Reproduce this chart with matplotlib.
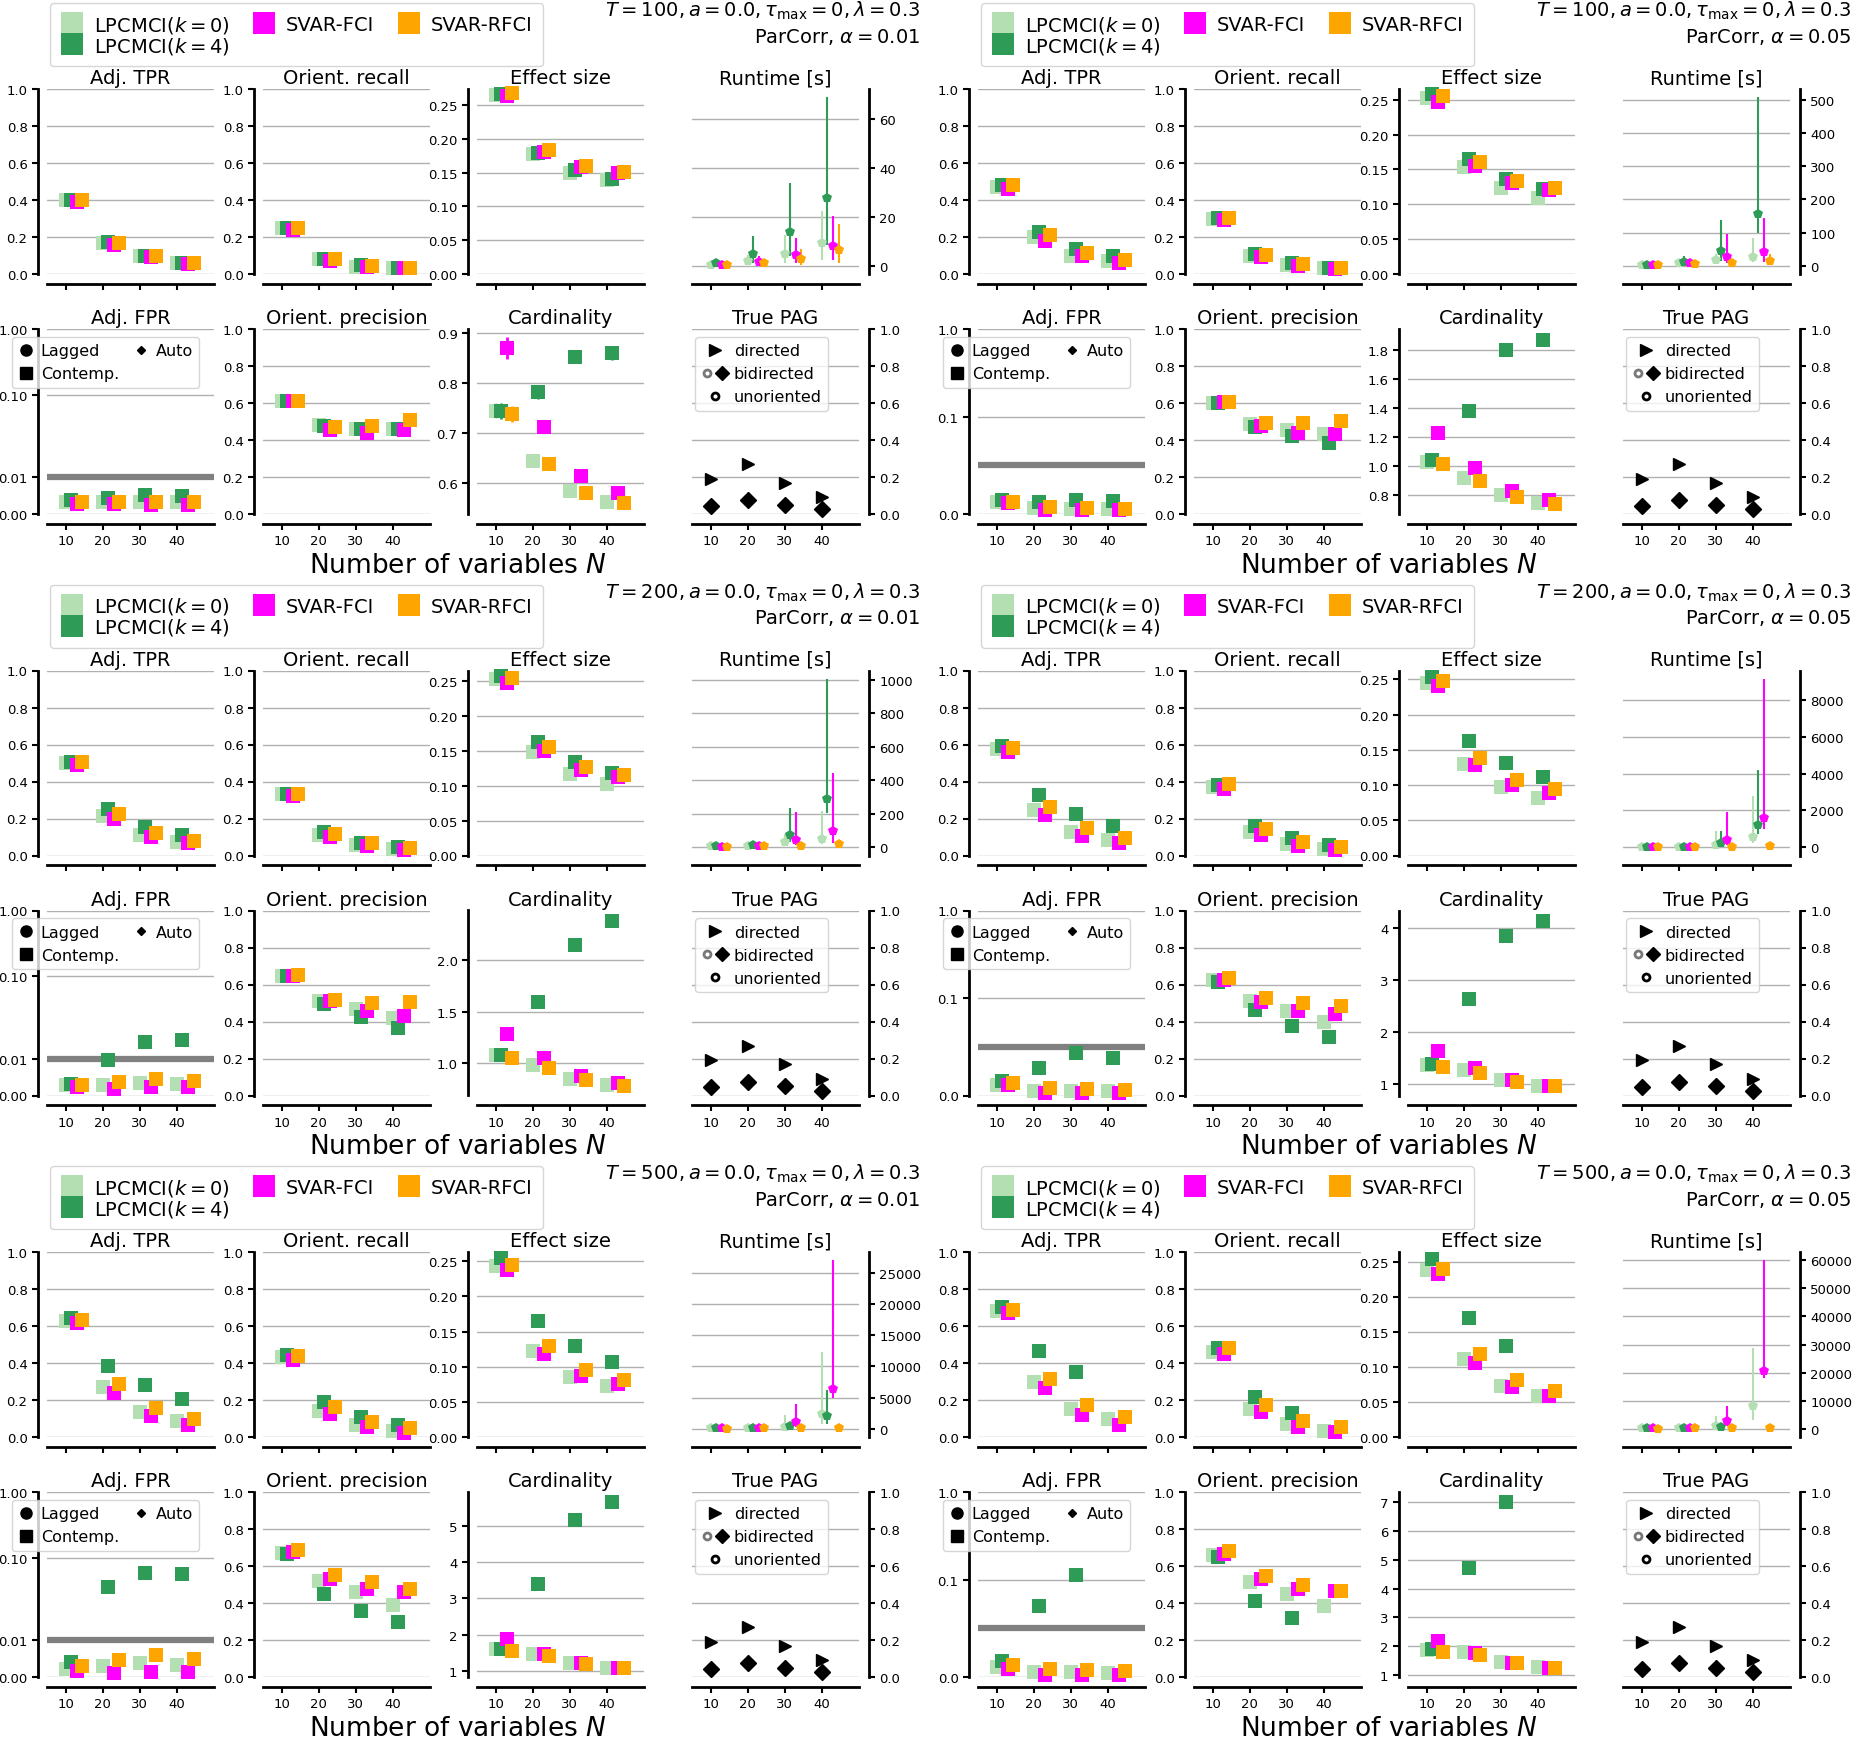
import numpy as np
import matplotlib
matplotlib.use("Agg")
import matplotlib.pyplot as plt
from matplotlib.lines import Line2D
from matplotlib.legend_handler import HandlerTuple
from matplotlib.ticker import NullLocator, FixedLocator, FixedFormatter

plt.rcParams['font.family'] = ['DejaVu Sans']
nan = np.nan

# ---------------- data ----------------
n_values = [10, 20, 30, 40]
methods = ["LPCMCI($k=0$)", "LPCMCI($k=4$)", "SVAR-FCI", "SVAR-RFCI"]
colors = ["#b3dfb3", "#2e9b57", "#ff00ff", "#ffa500"]
offsets = [0.0, 1.5, 3.0, 4.5]

true_directed = [0.19, 0.27, 0.17, 0.09]
true_bidirected = [0.045, 0.075, 0.05, 0.025]

# rows: LPCMCI(k=0), LPCMCI(k=4), SVAR-FCI, SVAR-RFCI ; columns: N = 10, 20, 30, 40

# T=100, alpha=0.01
tpr_100_01 = [[0.40, 0.17, 0.095, 0.06], [0.40, 0.175, 0.10, 0.06], [0.39, 0.155, 0.09, 0.055], [0.40, 0.17, 0.095, 0.06]]
rec_100_01 = [[0.25, 0.08, 0.04, 0.03], [0.25, 0.08, 0.05, 0.03], [0.24, 0.07, 0.04, 0.03], [0.25, 0.08, 0.045, 0.03]]
eff_100_01 = [[0.265, 0.177, 0.150, 0.139], [0.266, 0.179, 0.153, 0.141], [0.263, 0.181, 0.158, 0.150], [0.267, 0.183, 0.160, 0.151]]
fpr_100_01 = [[0.0032, 0.0032, 0.0032, 0.0032], [0.0038, 0.0043, 0.0053, 0.0049], [0.0028, 0.0026, 0.0024, 0.0025], [0.0033, 0.0034, 0.0034, 0.0034]]
prec_100_01 = [[0.61, 0.48, 0.46, 0.46], [0.61, 0.475, 0.46, 0.46], [0.61, 0.455, 0.44, 0.455], [0.61, 0.47, 0.475, 0.51]]
card_100_01 = [[0.745, 0.645, 0.585, 0.563], [0.745, 0.782, 0.853, 0.860], [0.870, 0.712, 0.615, 0.580], [0.739, 0.639, 0.580, 0.560]]
card_err_100_01 = [[0.015, 0.006, 0.005, 0.005], [0.016, 0.013, 0.013, 0.013], [0.022, 0.006, 0.006, 0.005], [0.016, 0.006, 0.005, 0.005]]
rt_100_01 = [[0.5, 1.8, 4.8, 9.4], [1.0, 5.0, 13.7, 27.6], [0.5, 1.6, 4.3, 8.3], [0.4, 1.2, 2.9, 6.5]]
rt_lo_100_01 = [[0.1, 0.5, 1.1, 2.2], [0.3, 1.2, 4.1, 8.4], [0.1, 0.4, 1.1, 2.2], [0.1, 0.3, 0.3, 1.2]]
rt_hi_100_01 = [[1.2, 4.5, 12.5, 22.5], [2.5, 12.4, 33.9, 68.9], [1.2, 3.9, 11.5, 20.4], [0.8, 2.4, 7.0, 17.0]]

# T=100, alpha=0.05
tpr_100_05 = [[0.47, 0.20, 0.10, 0.07], [0.48, 0.225, 0.135, 0.095], [0.46, 0.18, 0.095, 0.06], [0.48, 0.21, 0.115, 0.075]]
rec_100_05 = [[0.30, 0.10, 0.05, 0.03], [0.305, 0.11, 0.06, 0.035], [0.29, 0.09, 0.045, 0.025], [0.305, 0.105, 0.055, 0.035]]
eff_100_05 = [[0.253, 0.154, 0.124, 0.109], [0.258, 0.165, 0.137, 0.122], [0.247, 0.155, 0.130, 0.121], [0.255, 0.161, 0.133, 0.123]]
fpr_100_05 = [[0.012, 0.006, 0.005, 0.005], [0.014, 0.0125, 0.0145, 0.013], [0.011, 0.004, 0.004, 0.004], [0.012, 0.0076, 0.006, 0.0055]]
prec_100_05 = [[0.60, 0.487, 0.456, 0.43], [0.60, 0.471, 0.424, 0.384], [0.605, 0.475, 0.44, 0.43], [0.605, 0.49, 0.49, 0.502]]
card_100_05 = [[1.03, 0.918, 0.80, 0.75], [1.044, 1.383, 1.80, 1.874], [1.23, 0.99, 0.832, 0.768], [1.017, 0.90, 0.79, 0.74]]
card_err_100_05 = [[0.01, 0.01, 0.01, 0.01], [0.01, 0.015, 0.015, 0.015], [0.015, 0.01, 0.01, 0.01], [0.01, 0.01, 0.01, 0.01]]
rt_100_05 = [[3, 8, 16, 27], [3, 12, 44, 155], [3, 8, 25, 41], [2, 5, 8, 14]]
rt_lo_100_05 = [[1, 3, 5, 10], [1, 4, 15, 100], [1, 3, 8, 12], [0.5, 2, 3, 5]]
rt_hi_100_05 = [[6, 18, 35, 85], [8, 28, 138, 508], [6, 16, 95, 144], [4, 10, 18, 35]]

# T=200, alpha=0.01
tpr_200_01 = [[0.50, 0.215, 0.112, 0.075], [0.505, 0.25, 0.156, 0.11], [0.49, 0.195, 0.10, 0.065], [0.505, 0.225, 0.12, 0.08]]
rec_200_01 = [[0.33, 0.11, 0.055, 0.035], [0.33, 0.125, 0.07, 0.045], [0.32, 0.10, 0.05, 0.03], [0.33, 0.115, 0.065, 0.04]]
eff_200_01 = [[0.253, 0.149, 0.117, 0.103], [0.258, 0.163, 0.134, 0.119], [0.248, 0.150, 0.123, 0.113], [0.255, 0.156, 0.127, 0.116]]
fpr_200_01 = [[0.003, 0.003, 0.0035, 0.0032], [0.0032, 0.0096, 0.0147, 0.0153], [0.0023, 0.0017, 0.0023, 0.0023], [0.003, 0.0037, 0.0044, 0.0039]]
prec_200_01 = [[0.645, 0.511, 0.465, 0.42], [0.645, 0.495, 0.425, 0.367], [0.645, 0.51, 0.455, 0.43], [0.65, 0.515, 0.50, 0.507]]
card_200_01 = [[1.076, 0.986, 0.853, 0.79], [1.08, 1.597, 2.15, 2.378], [1.288, 1.054, 0.878, 0.81], [1.05, 0.953, 0.835, 0.78]]
card_err_200_01 = [[0.01, 0.01, 0.01, 0.01], [0.01, 0.02, 0.02, 0.02], [0.015, 0.01, 0.01, 0.01], [0.01, 0.01, 0.01, 0.01]]
rt_200_01 = [[5, 8, 29, 51], [5, 12, 73, 287], [4, 8, 46, 95], [3, 5, 10, 20]]
rt_lo_200_01 = [[2, 3, 10, 20], [2, 4, 30, 205], [1, 3, 15, 25], [1, 2, 4, 8]]
rt_hi_200_01 = [[10, 18, 80, 216], [12, 30, 234, 1004], [8, 16, 210, 444], [6, 10, 25, 45]]

# T=200, alpha=0.05
tpr_200_05 = [[0.576, 0.246, 0.128, 0.085], [0.59, 0.328, 0.226, 0.162], [0.56, 0.22, 0.106, 0.07], [0.58, 0.264, 0.146, 0.095]]
rec_200_05 = [[0.37, 0.125, 0.06, 0.035], [0.38, 0.16, 0.095, 0.055], [0.36, 0.11, 0.05, 0.03], [0.385, 0.145, 0.075, 0.045]]
eff_200_05 = [[0.245, 0.13, 0.097, 0.082], [0.254, 0.163, 0.131, 0.111], [0.24, 0.129, 0.10, 0.089], [0.248, 0.139, 0.107, 0.094]]
fpr_200_05 = [[0.011, 0.0049, 0.005, 0.005], [0.0144, 0.028, 0.0436, 0.0386], [0.011, 0.003, 0.003, 0.003], [0.0125, 0.0076, 0.0065, 0.006]]
prec_200_05 = [[0.624, 0.51, 0.456, 0.40], [0.615, 0.46, 0.374, 0.314], [0.625, 0.505, 0.455, 0.442], [0.634, 0.526, 0.50, 0.486]]
card_200_05 = [[1.38, 1.27, 1.08, 0.98], [1.40, 2.65, 3.86, 4.14], [1.65, 1.31, 1.08, 0.98], [1.34, 1.23, 1.05, 0.97]]
card_err_200_05 = [[0.02, 0.02, 0.02, 0.02], [0.02, 0.04, 0.04, 0.04], [0.03, 0.02, 0.02, 0.02], [0.02, 0.02, 0.02, 0.02]]
rt_200_05 = [[10, 20, 141, 544], [15, 30, 200, 1210], [10, 20, 383, 1592], [8, 12, 30, 60]]
rt_lo_200_05 = [[5, 10, 50, 200], [5, 10, 80, 690], [3, 8, 100, 1000], [3, 5, 10, 20]]
rt_hi_200_05 = [[25, 50, 887, 2800], [40, 80, 900, 4173], [25, 50, 1915, 9153], [15, 25, 60, 120]]

# T=500, alpha=0.01
tpr_500_01 = [[0.627, 0.269, 0.137, 0.086], [0.645, 0.382, 0.281, 0.205], [0.614, 0.239, 0.112, 0.064], [0.635, 0.285, 0.155, 0.10]]
rec_500_01 = [[0.43, 0.14, 0.064, 0.032], [0.444, 0.187, 0.11, 0.066], [0.418, 0.122, 0.052, 0.024], [0.44, 0.16, 0.08, 0.048]]
eff_500_01 = [[0.243, 0.122, 0.086, 0.0725], [0.254, 0.165, 0.130, 0.107], [0.238, 0.118, 0.087, 0.076], [0.245, 0.13, 0.095, 0.081]]
fpr_500_01 = [[0.0022, 0.003, 0.0039, 0.0034], [0.0041, 0.0356, 0.0597, 0.056], [0.0016, 0.001, 0.0015, 0.0014], [0.003, 0.0046, 0.0061, 0.0049]]
prec_500_01 = [[0.67, 0.52, 0.46, 0.39], [0.665, 0.45, 0.355, 0.297], [0.675, 0.528, 0.474, 0.462], [0.689, 0.55, 0.512, 0.478]]
card_500_01 = [[1.60, 1.48, 1.23, 1.10], [1.60, 3.41, 5.15, 5.65], [1.88, 1.48, 1.23, 1.10], [1.55, 1.43, 1.20, 1.10]]
card_err_500_01 = [[0.03, 0.03, 0.03, 0.03], [0.03, 0.05, 0.05, 0.05], [0.04, 0.03, 0.03, 0.03], [0.03, 0.03, 0.03, 0.03]]
rt_500_01 = [[40, 80, 300, 2370], [50, 100, 415, 2070], [30, 80, 1125, 6400], [20, 40, 50, 100]]
rt_lo_500_01 = [[20, 40, 100, 700], [20, 40, 150, 700], [10, 30, 300, 5000], [10, 20, 20, 40]]
rt_hi_500_01 = [[80, 200, 2190, 12320], [100, 250, 900, 6220], [60, 200, 3970, 27010], [40, 80, 100, 200]]

# T=500, alpha=0.05 (LPCMCI(k=4) missing at N=40)
tpr_500_05 = [[0.682, 0.298, 0.151, 0.095], [0.702, 0.465, 0.354, nan], [0.668, 0.264, 0.121, 0.065], [0.686, 0.314, 0.173, 0.11]]
rec_500_05 = [[0.46, 0.153, 0.068, 0.034], [0.483, 0.217, 0.129, nan], [0.449, 0.137, 0.056, 0.028], [0.48, 0.175, 0.089, 0.052]]
eff_500_05 = [[0.238, 0.111, 0.073, 0.058], [0.254, 0.170, 0.130, nan], [0.232, 0.106, 0.071, 0.058], [0.24, 0.118, 0.081, 0.066]]
fpr_500_05 = [[0.0107, 0.005, 0.005, 0.004], [0.016, 0.0725, 0.1135, nan], [0.0084, 0.0023, 0.002, 0.002], [0.0122, 0.008, 0.0075, 0.0065]]
prec_500_05 = [[0.659, 0.514, 0.45, 0.386], [0.651, 0.41, 0.319, nan], [0.665, 0.53, 0.478, 0.466], [0.679, 0.546, 0.50, 0.466]]
card_500_05 = [[1.88, 1.78, 1.46, 1.28], [1.90, 4.70, 7.0, nan], [2.17, 1.75, 1.43, 1.25], [1.81, 1.70, 1.42, 1.25]]
card_err_500_05 = [[0.03, 0.03, 0.03, 0.03], [0.03, 0.06, 0.06, nan], [0.04, 0.03, 0.03, 0.03], [0.03, 0.03, 0.03, 0.03]]
rt_500_05 = [[100, 200, 920, 8160], [150, 300, 660, nan], [100, 200, 2900, 20660], [50, 80, 100, 200]]
rt_lo_500_05 = [[50, 100, 300, 3000], [50, 100, 200, nan], [50, 100, 1000, 18000], [20, 40, 50, 100]]
rt_hi_500_05 = [[200, 500, 4470, 28800], [300, 600, 1500, nan], [200, 500, 8160, 60000], [100, 150, 200, 400]]

blocks = [
    dict(T=100, alpha=0.01, tpr=tpr_100_01, rec=rec_100_01, eff=eff_100_01, fpr=fpr_100_01, prec=prec_100_01,
         card=card_100_01, card_err=card_err_100_01, rt=rt_100_01, rt_lo=rt_lo_100_01, rt_hi=rt_hi_100_01),
    dict(T=100, alpha=0.05, tpr=tpr_100_05, rec=rec_100_05, eff=eff_100_05, fpr=fpr_100_05, prec=prec_100_05,
         card=card_100_05, card_err=card_err_100_05, rt=rt_100_05, rt_lo=rt_lo_100_05, rt_hi=rt_hi_100_05),
    dict(T=200, alpha=0.01, tpr=tpr_200_01, rec=rec_200_01, eff=eff_200_01, fpr=fpr_200_01, prec=prec_200_01,
         card=card_200_01, card_err=card_err_200_01, rt=rt_200_01, rt_lo=rt_lo_200_01, rt_hi=rt_hi_200_01),
    dict(T=200, alpha=0.05, tpr=tpr_200_05, rec=rec_200_05, eff=eff_200_05, fpr=fpr_200_05, prec=prec_200_05,
         card=card_200_05, card_err=card_err_200_05, rt=rt_200_05, rt_lo=rt_lo_200_05, rt_hi=rt_hi_200_05),
    dict(T=500, alpha=0.01, tpr=tpr_500_01, rec=rec_500_01, eff=eff_500_01, fpr=fpr_500_01, prec=prec_500_01,
         card=card_500_01, card_err=card_err_500_01, rt=rt_500_01, rt_lo=rt_lo_500_01, rt_hi=rt_hi_500_01),
    dict(T=500, alpha=0.05, tpr=tpr_500_05, rec=rec_500_05, eff=eff_500_05, fpr=fpr_500_05, prec=prec_500_05,
         card=card_500_05, card_err=card_err_500_05, rt=rt_500_05, rt_lo=rt_lo_500_05, rt_hi=rt_hi_500_05),
]

# ---------------- layout (pixels) ----------------
W, H = 1853, 1740
col_left = [47, 263, 477, 692]
col_w = 167
row_top = [90, 330]
row_h = 185
block_dx, block_dy = 931, 581.5

fig = plt.figure(figsize=(W / 100, H / 100), dpi=100)

TICK_FS = 9.5
TITLE_FS = 14
SMALL_LEG_FS = 11.5


def make_ax(bx, by, r, c):
    x0 = col_left[c] + bx
    y0 = row_top[r] + by
    return fig.add_axes([x0 / W, 1 - (y0 + row_h) / H, col_w / W, row_h / H])


def style(ax, right=False, bottom_labels=True):
    ax.spines['top'].set_visible(False)
    for s in ax.spines.values():
        s.set_linewidth(2)
    ax.spines['bottom'].set_position(('outward', 7))
    if right:
        ax.spines['left'].set_visible(False)
        ax.spines['right'].set_position(('outward', 7))
        ax.yaxis.tick_right()
    else:
        ax.spines['right'].set_visible(False)
        ax.spines['left'].set_position(('outward', 6.5))
    ax.set_xlim(5, 50)
    ax.set_xticks(n_values)
    ax.grid(axis='y', color='#b0b0b0', lw=1)
    ax.set_axisbelow(True)
    ax.tick_params(labelsize=TICK_FS, length=4, width=1.5)
    if not bottom_labels:
        ax.tick_params(axis='x', labelbottom=False)


def squares(ax, data):
    for i in range(4):
        x = np.array(n_values) + offsets[i]
        ax.plot(x, data[i], 's', color=colors[i], ms=9.5, mew=0, ls='none', zorder=3, clip_on=False)


for b, blk in enumerate(blocks):
    bx = (b % 2) * block_dx
    by = (b // 2) * block_dy
    alpha = blk['alpha']

    # top legend
    handles = [Line2D([], [], marker='s', ls='none', ms=16, mew=0, color=colors[0]),
               Line2D([], [], marker='s', ls='none', ms=16, mew=0, color=colors[1]),
               Line2D([], [], marker='s', ls='none', ms=16, mew=0, color=colors[2]),
               Line2D([], [], ls='none'),
               Line2D([], [], marker='s', ls='none', ms=16, mew=0, color=colors[3]),
               Line2D([], [], ls='none')]
    labels = [methods[0], methods[1], methods[2], '', methods[3], '']
    fig.legend(handles, labels, ncol=3, loc='upper left',
               bbox_to_anchor=((50 + bx) / W, 1 - (4 + by) / H), borderaxespad=0,
               fontsize=TITLE_FS, labelspacing=0.0, handlelength=1.2, handletextpad=0.5,
               columnspacing=1.2, borderpad=0.55)

    # header text
    fig.text((920 + bx) / W, 1 - (11 + by) / H,
             r'$T=%d, a=0.0, \tau_{\max}=0, \lambda=0.3$' % blk['T'],
             ha='right', va='center', fontsize=TITLE_FS)
    fig.text((920 + bx) / W, 1 - (37 + by) / H, r'ParCorr, $\alpha=%.2f$' % alpha,
             ha='right', va='center', fontsize=TITLE_FS)
    fig.text((458 + bx) / W, 1 - (566 + by) / H, r'Number of variables $N$',
             ha='center', va='center', fontsize=19)

    # --- row 1 ---
    ax = make_ax(bx, by, 0, 0)
    style(ax, bottom_labels=False)
    squares(ax, blk['tpr'])
    ax.set_ylim(0, 1)
    ax.set_title('Adj. TPR', fontsize=TITLE_FS, pad=4)

    ax = make_ax(bx, by, 0, 1)
    style(ax, bottom_labels=False)
    squares(ax, blk['rec'])
    ax.set_ylim(0, 1)
    ax.set_title('Orient. recall', fontsize=TITLE_FS, pad=4)

    ax = make_ax(bx, by, 0, 2)
    style(ax, bottom_labels=False)
    squares(ax, blk['eff'])
    ax.set_ylim(bottom=0)
    ax.set_title('Effect size', fontsize=TITLE_FS, pad=4)

    ax = make_ax(bx, by, 0, 3)
    style(ax, right=True, bottom_labels=False)
    for i in range(4):
        x = np.array(n_values) + offsets[i]
        m = np.array(blk['rt'][i], dtype=float)
        lo = np.array(blk['rt_lo'][i], dtype=float)
        hi = np.array(blk['rt_hi'][i], dtype=float)
        ax.errorbar(x, m, yerr=[m - lo, hi - m], fmt='p', color=colors[i], ms=7.5, mew=0,
                    elinewidth=1.5, capsize=1.5, capthick=2.5, zorder=3)
    ax.set_title('Runtime [s]', fontsize=TITLE_FS, pad=4)

    # --- row 2 ---
    ax = make_ax(bx, by, 1, 0)
    style(ax)
    ax.set_yscale('symlog', linthresh=2 * alpha, linscale=1)
    ax.axhline(alpha, color='grey', lw=4.5, zorder=2)
    squares(ax, blk['fpr'])
    ax.set_ylim(0, 1)
    if alpha < 0.03:
        ax.yaxis.set_major_locator(FixedLocator([0, 0.01, 0.1, 1]))
        ax.yaxis.set_major_formatter(FixedFormatter(['0.00', '0.01', '0.10', '1.00']))
    else:
        ax.yaxis.set_major_locator(FixedLocator([0, 0.1, 1]))
        ax.yaxis.set_major_formatter(FixedFormatter(['0.0', '0.1', '1.0']))
    ax.yaxis.set_minor_locator(NullLocator())
    ax.set_title('Adj. FPR', fontsize=TITLE_FS, pad=4)
    h_lag = Line2D([], [], marker='o', ls='none', color='k', ms=8)
    h_auto = Line2D([], [], marker='D', ls='none', color='k', ms=4)
    h_con = Line2D([], [], marker='s', ls='none', color='k', ms=8)
    ax.legend([h_lag, h_con, h_auto], ['Lagged', 'Contemp.', 'Auto'], ncol=2, loc='upper left',
              bbox_to_anchor=(-0.21, 0.957), borderaxespad=0, fontsize=SMALL_LEG_FS,
              handlelength=1.0, handletextpad=0.4, columnspacing=0.9)

    ax = make_ax(bx, by, 1, 1)
    style(ax)
    squares(ax, blk['prec'])
    ax.set_ylim(0, 1)
    ax.set_title('Orient. precision', fontsize=TITLE_FS, pad=4)

    ax = make_ax(bx, by, 1, 2)
    style(ax)
    for i in range(4):
        x = np.array(n_values) + offsets[i]
        ax.errorbar(x, blk['card'][i], yerr=blk['card_err'][i], fmt='s', color=colors[i], ms=9.5,
                    mew=0, elinewidth=2, capsize=0, zorder=3)
    ax.set_title('Cardinality', fontsize=TITLE_FS, pad=4)

    ax = make_ax(bx, by, 1, 3)
    style(ax, right=True)
    ax.plot(n_values, true_directed, '>', color='k', ms=9, ls='none', clip_on=False)
    ax.plot(n_values, true_bidirected, 'D', color='k', ms=8, ls='none', clip_on=False)
    ax.set_ylim(0, 1)
    ax.set_yticks([0, 0.2, 0.4, 0.6, 0.8, 1.0])
    ax.set_title('True PAG', fontsize=TITLE_FS, pad=4)
    h_dir = Line2D([], [], marker='>', ls='none', color='k', ms=8)
    h_gray = Line2D([], [], marker='o', ls='none', mfc='white', mec='#777777', mew=2, ms=5)
    h_bi = Line2D([], [], marker='D', ls='none', color='k', ms=7)
    h_un = Line2D([], [], marker='o', ls='none', mfc='white', mec='k', mew=2, ms=5)
    ax.legend([h_dir, (h_gray, h_bi), h_un], ['directed', 'bidirected', 'unoriented'],
              handler_map={tuple: HandlerTuple(ndivide=None, pad=0.2)},
              loc='upper left', bbox_to_anchor=(0.02, 0.957), borderaxespad=0,
              fontsize=SMALL_LEG_FS, handlelength=1.6, handletextpad=0.4)

fig.savefig('out.png', dpi=100)
